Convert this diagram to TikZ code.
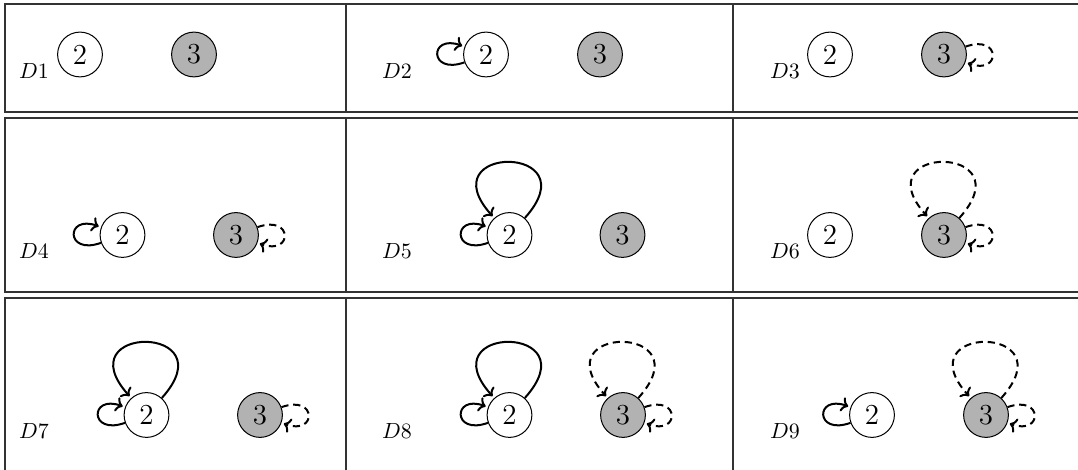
\documentclass[tikz,border=0pt]{standalone}
\usetikzlibrary{arrows.meta}
% loop helpers: small loop on the left, small dashed loop on the right, big loop on top
\newcommand{\loopW}[1]{\draw[arc] (#1.200) .. controls +(200:19pt) and +(160:19pt) .. (#1.160);}
\newcommand{\loopE}[1]{\draw[darc] (#1.20) .. controls +(20:19pt) and +(-20:19pt) .. (#1.-20);}
\newcommand{\loopN}[2]{\draw[#2] (#1.48) .. controls +(48:50pt) and +(132:50pt) .. (#1.132);}
\begin{document}
\begin{tikzpicture}[x=0.5pt,y=-0.5pt,
  state/.style={circle,draw=black,line width=0.5pt,minimum size=22.4pt,inner sep=0pt,
    font=\fontsize{14.5}{16}\selectfont},
  open/.style={state,fill=white},
  shaded/.style={state,fill=gray!60},
  tag/.style={font=\fontsize{10.5}{12}\selectfont,inner sep=0pt},
  grid/.style={line width=0.75pt,draw=black!80},
  arc/.style={-{Computer Modern Rightarrow[width=7.5pt,length=3.4pt]},line width=1pt,shorten >=1.2pt},
  darc/.style={arc,dash pattern=on 3.6pt off 2.4pt}]
\useasboundingbox (0,0) rectangle (1078,470);

% table rules
\draw[grid] (1090,4) -- (5,4) -- (5,112) -- (1090,112);
\draw[grid] (346,4) -- (346,112) (733,4) -- (733,112);
\draw[grid] (1090,118) -- (5,118) -- (5,292) -- (1090,292);
\draw[grid] (346,118) -- (346,292) (733,118) -- (733,292);
\draw[grid] (1090,298) -- (5,298) -- (5,480);
\draw[grid] (346,298) -- (346,480) (733,298) -- (733,480);

% D1
\node[tag] (l1) at (34,71) {$D1$};
\node[open] (a1) at (80,54.5) {2};
\node[shaded] (b1) at (194,54.5) {3};
% D2
\node[tag] (l2) at (397,71) {$D2$};
\node[open] (a2) at (486,54.5) {2};
\node[shaded] (b2) at (600,54.5) {3};
\loopW{a2}
% D3
\node[tag] (l3) at (785,71) {$D3$};
\node[open] (a3) at (830,54.5) {2};
\node[shaded] (b3) at (944,54.5) {3};
\loopE{b3}

% D4
\node[tag] (l4) at (34,251.5) {$D4$};
\node[open] (a4) at (122.5,235) {2};
\node[shaded] (b4) at (236,235) {3};
\loopW{a4}
\loopE{b4}
% D5
\node[tag] (l5) at (397,251.5) {$D5$};
\node[open] (a5) at (509.5,235) {2};
\node[shaded] (b5) at (622.5,235) {3};
\loopW{a5}
\loopN{a5}{arc}
% D6
\node[tag] (l6) at (785,251.5) {$D6$};
\node[open] (a6) at (830,235) {2};
\node[shaded] (b6) at (944,235) {3};
\loopN{b6}{darc}
\loopE{b6}

% D7
\node[tag] (l7) at (34,431.5) {$D7$};
\node[open] (a7) at (146.5,415) {2};
\node[shaded] (b7) at (260,415) {3};
\loopW{a7}
\loopN{a7}{arc}
\loopE{b7}
% D8
\node[tag] (l8) at (397,431.5) {$D8$};
\node[open] (a8) at (509.5,415) {2};
\node[shaded] (b8) at (623,415) {3};
\loopW{a8}
\loopN{a8}{arc}
\loopN{b8}{darc}
\loopE{b8}
% D9
\node[tag] (l9) at (785,431.5) {$D9$};
\node[open] (a9) at (872,415) {2};
\node[shaded] (b9) at (986,415) {3};
\loopW{a9}
\loopN{b9}{darc}
\loopE{b9}
\end{tikzpicture}
\end{document}
